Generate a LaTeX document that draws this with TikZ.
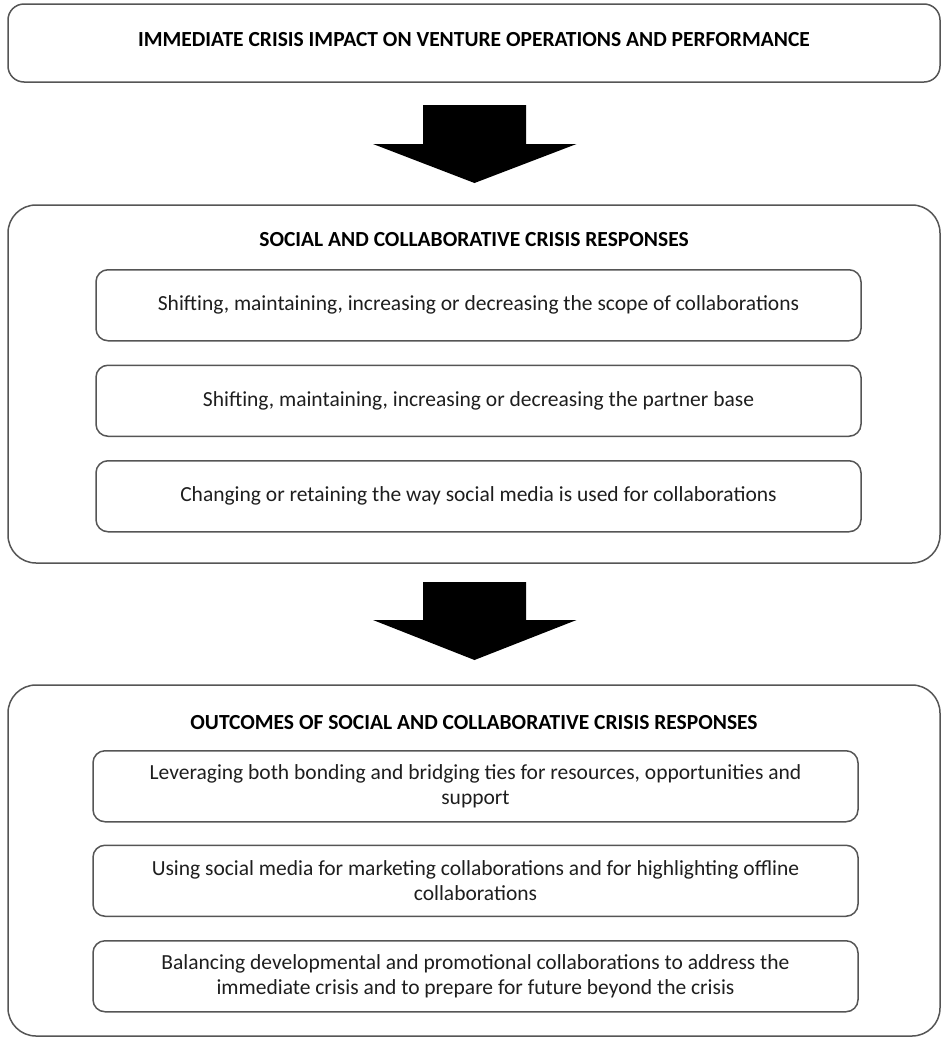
\documentclass[tikz,border=0pt]{standalone}
\usepackage{fontspec}
\setmainfont{Carlito}
\usepackage{tikz}
\usetikzlibrary{positioning}

\definecolor{edge}{HTML}{555555}
\definecolor{ink}{HTML}{1E1E1E}

\begin{document}
\begin{tikzpicture}[
  x=1pt,y=-1pt,
  node distance=23pt,
  head/.style={font=\fontsize{21.5}{25}\selectfont\bfseries,text=black,align=center},
  outer/.style={draw=edge,line width=1.5pt,minimum width=932pt,inner sep=0pt},
  inbox/.style={draw=edge,line width=1.5pt,rounded corners=12pt,align=center,minimum width=765pt,minimum height=71pt,inner sep=0pt,
    font=\fontsize{21.5}{25}\selectfont,text=ink},
  blockarr/.style={fill=black}
]
\useasboundingbox (0,0) rectangle (942,1039);
% top stage
\node[outer,rounded corners=16pt,minimum height=78pt] (impact) at (474,43) {};
\node[head] (impacttitle) at (474,40)
  {IMMEDIATE CRISIS IMPACT ON VENTURE OPERATIONS AND PERFORMANCE};
% block arrow 1
\coordinate (a1) at (474.5,105);
\fill[blockarr] (a1) ++(-51.5,0) -- ++(103,0) -- ++(0,39) -- ++(50.5,0)
  -- (a1 |- 0,183) -- (373,144) -- (423,144) -- cycle;
% responses stage
\node[outer,rounded corners=28pt,minimum height=358pt] (resp) at (474,384) {};
\node[head] (resptitle) at (474,240) {SOCIAL AND COLLABORATIVE CRISIS RESPONSES};
\node[inbox,anchor=north] (r1) at (478.5,269)
  {Shifting, maintaining, increasing or decreasing the scope of collaborations};
\node[inbox,below=of r1] (r2)
  {Shifting, maintaining, increasing or decreasing the partner base};
\node[inbox,below=of r2] (r3)
  {Changing or retaining the way social media is used for collaborations};
% block arrow 2
\coordinate (a2) at (474.5,582);
\fill[blockarr] (a2) ++(-51.5,0) -- ++(103,0) -- ++(0,38) -- ++(50.5,0)
  -- (a2 |- 0,660) -- (373,620) -- (423,620) -- cycle;
% outcomes stage
\node[outer,rounded corners=28pt,minimum height=351pt] (outc) at (474,860.5) {};
\node[head] (outctitle) at (474,723) {OUTCOMES OF SOCIAL AND COLLABORATIVE CRISIS RESPONSES};
\node[inbox,anchor=north] (o1) at (475.5,750)
  {Leveraging both bonding and bridging ties for resources, opportunities and\\support};
\node[inbox,below=22pt of o1] (o2)
  {Using social media for marketing collaborations and for highlighting offline\\collaborations};
\node[inbox,below=of o2] (o3)
  {Balancing developmental and promotional collaborations to address the\\immediate crisis and to prepare for future beyond the crisis};
\end{tikzpicture}
\end{document}
